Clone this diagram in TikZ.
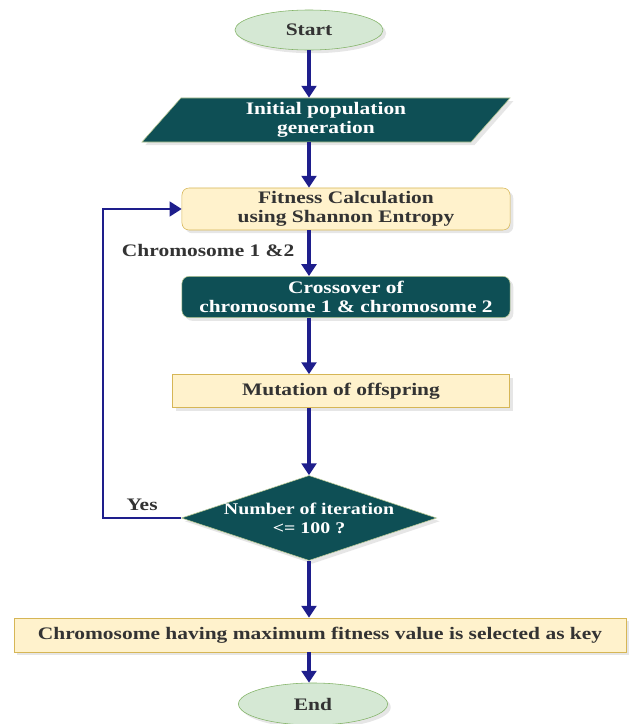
\documentclass[tikz,border=0pt]{standalone}
\usepackage{fontspec}
\setmainfont{Liberation Serif}[FakeStretch=1.22]
\usepackage{tikz}
\usetikzlibrary{positioning, arrows.meta, shapes.geometric, shadows}
\definecolor{gateal}{HTML}{0E4F55}
\definecolor{gaedge}{HTML}{B8C994}
\definecolor{gayellow}{HTML}{FFF2CC}
\definecolor{gayedge}{HTML}{D6B656}
\definecolor{gagreen}{HTML}{D5E8D4}
\definecolor{gagedge}{HTML}{82B366}
\definecolor{ganavy}{HTML}{1E1E8C}
\definecolor{gatext}{HTML}{333333}

\begin{document}
\begin{tikzpicture}[
    x=0.025cm, y=-0.025cm,
    txt/.style={font=\fontsize{12.5}{13.5}\selectfont\bfseries, align=center},
    term/.style={txt, ellipse, draw=gagedge, fill=gagreen, text=gatext, minimum width=3.7cm, minimum height=1.0cm, inner sep=0pt, drop shadow={opacity=0.2}},
    io/.style={txt, trapezium, trapezium left angle=42, trapezium right angle=138, trapezium stretches body, draw=gaedge, fill=gateal, text=white, minimum width=9.2cm, minimum height=1.1cm, inner sep=0pt, drop shadow={opacity=0.2}},
    proc/.style={txt, rectangle, draw=gayedge, fill=gayellow, text=gatext, inner sep=0pt, drop shadow={opacity=0.2}},
    dproc/.style={txt, rectangle, rounded corners=5pt, draw=gaedge, fill=gateal, text=white, inner sep=0pt, drop shadow={opacity=0.2}},
    decision/.style={txt, font=\fontsize{11.6}{13.5}\selectfont\bfseries, diamond, aspect=3, draw=gaedge, fill=gateal, text=white, minimum width=6.375cm, minimum height=2.125cm, inner sep=-3pt, drop shadow={opacity=0.2}},
    flow/.style={-{Triangle[length=8.5pt, width=10.5pt]}, line width=2.2pt, ganavy},
    backline/.style={-{Triangle[length=8.5pt, width=10.5pt]}, line width=1.3pt, ganavy},
    lbl/.style={txt, text=gatext},
]
\useasboundingbox (0,0) rectangle (631,724);

% Nodes
\node[term] (start) at (309,30) {Start};
\node[io] (init) at (326,120) {Initial population\\generation};
\node[proc, rounded corners=5pt, minimum width=8.2cm, minimum height=1.05cm] (fit) at (346,209) {Fitness Calculation\\using Shannon Entropy};
\node[dproc, minimum width=8.2cm, minimum height=1.03cm] (cross) at (346,297) {Crossover of\\chromosome 1 \& chromosome 2};
\node[proc, minimum width=8.425cm, minimum height=0.825cm] (mut) at (341,391) {Mutation of offspring};
\node[decision] (iter) at (309,518) {Number of iteration\\<= 100 ?};
\node[proc, minimum width=15.3cm, minimum height=0.85cm] (sel) at (320,635) {Chromosome having maximum fitness value is selected as key};
\node[term, minimum width=3.725cm, minimum height=1.05cm] (end) at (313,704) {End};

% Flow
\draw[flow] (start.south) -- (start.south |- init.north);
\draw[flow] (start.south |- init.south) -- (start.south |- fit.north);
\draw[flow] (start.south |- fit.south) -- node[lbl, left=6pt, pos=0.45] {Chromosome 1 \&2} (start.south |- cross.north);
\draw[flow] (start.south |- cross.south) -- (start.south |- mut.north);
\draw[flow] (start.south |- mut.south) -- (iter.north);
\draw[flow] (iter.south) -- (iter.south |- sel.north);
\draw[flow] (iter.south |- sel.south) -- (iter.south |- end.north);

% Loop back
\coordinate (loopcorner) at (103,518);
\draw[backline] (iter.west) -- node[lbl, above=1pt, pos=0.5] {Yes} (loopcorner) |- (fit.west);

\end{tikzpicture}
\end{document}
